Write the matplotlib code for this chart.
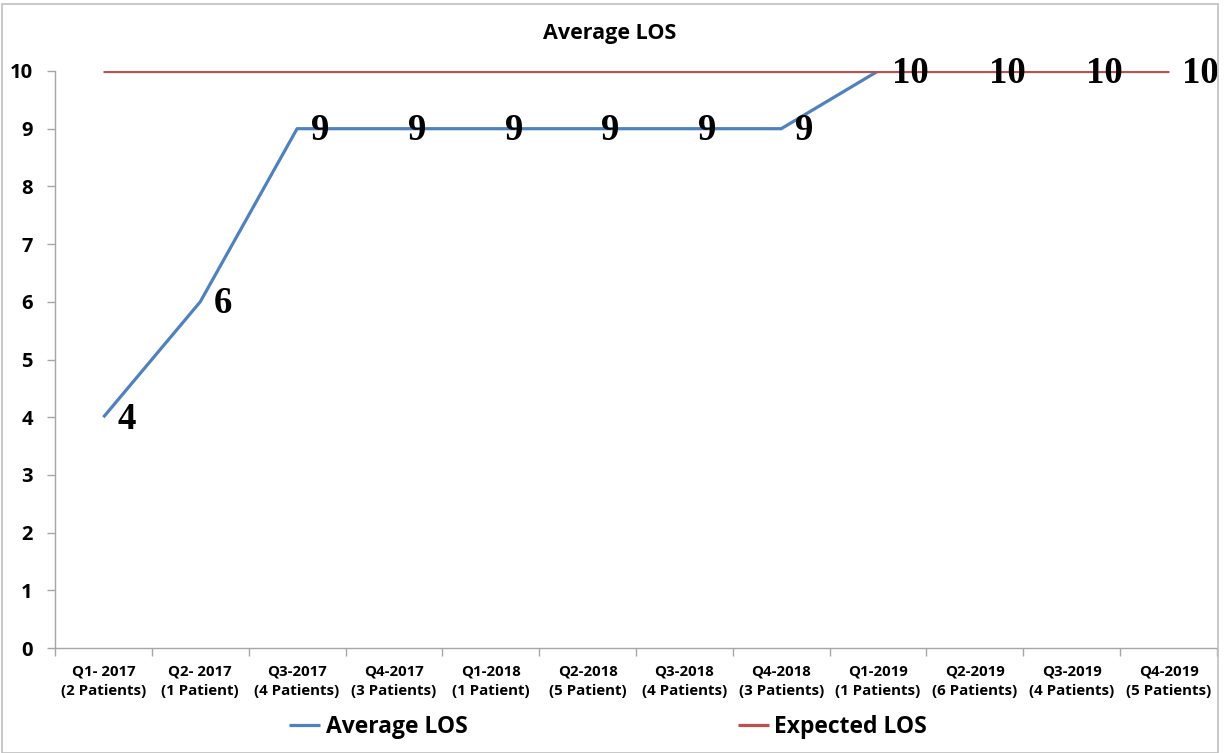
import matplotlib.pyplot as plt
from matplotlib.patches import Rectangle

# Chart data
quarters = ["Q1- 2017", "Q2- 2017", "Q3-2017", "Q4-2017", "Q1-2018", "Q2-2018",
            "Q3-2018", "Q4-2018", "Q1-2019", "Q2-2019", "Q3-2019", "Q4-2019"]
patients = ["(2 Patients)", "(1 Patient)", "(4 Patients)", "(3 Patients)", "(1 Patient)",
            "(5 Patient)", "(4 Patients)", "(3 Patients)", "(1 Patients)", "(6 Patients)",
            "(4 Patients)", "(5 Patients)"]
average_los = [4, 6, 9, 9, 9, 9, 9, 9, 10, 10, 10, 10]
expected_los = [10, 10, 10, 10, 10, 10, 10, 10, 10, 10, 10, 10]

sans = ["Open Sans", "DejaVu Sans"]
serif = ["Liberation Serif", "DejaVu Serif"]
blue = "#4F81BD"
red = "#C0504D"
gray = "#A6A6A6"

fig = plt.figure(figsize=(12.25, 7.53), dpi=100)
ax = fig.add_axes([55 / 1225, 105 / 753, (1217 - 55) / 1225, (648 - 71) / 753])

x = list(range(len(quarters)))
ax.plot(x, average_los, color=blue, lw=2.3, label="Average LOS", solid_capstyle="butt")
ax.plot(x, expected_los, color=red, lw=2.3, label="Expected LOS", solid_capstyle="butt")

# Data labels to the right of each point
for xi, v in zip(x, average_los):
    ax.annotate(str(v), (xi, v), xytext=(10, -1.5), textcoords="offset points",
                ha="left", va="center", fontsize=26.5, fontweight="bold",
                family=serif, color="black", annotation_clip=False)

ax.set_xlim(-0.5, len(quarters) - 0.5)
ax.set_ylim(0, 10)
ax.set_yticks(range(0, 11))
ax.set_yticklabels([str(i) for i in range(0, 11)], fontsize=14.5, fontweight="bold", family=sans)

# category labels centred, tick marks between categories
ax.set_xticks(x)
ax.set_xticklabels([q + "\n" + p for q, p in zip(quarters, patients)],
                   fontsize=10.8, fontweight="bold", family=sans, linespacing=1.45)
ax.set_xticks([i - 0.5 for i in range(len(quarters) + 1)], minor=True)
ax.tick_params(axis="x", which="major", length=0, pad=12)
ax.tick_params(axis="x", which="minor", length=6, color=gray, width=1)
ax.tick_params(axis="y", length=6, color=gray, width=1, pad=10)

for side in ["top", "right"]:
    ax.spines[side].set_visible(False)
for side in ["left", "bottom"]:
    ax.spines[side].set_color(gray)
    ax.spines[side].set_linewidth(1)

fig.text(610 / 1225, 1 - 33 / 753, "Average LOS", ha="center", va="center",
         fontsize=15.5, fontweight="bold", family=sans)

leg = fig.legend(loc="center", bbox_to_anchor=(608 / 1225, 1 - 727 / 753), ncol=2,
                 frameon=False, handlelength=1.35, handletextpad=0.25, columnspacing=11.8,
                 prop={"family": sans, "weight": "bold", "size": 16.5})

# outer chart border
fig.patches.append(Rectangle((2 / 1225, 0), 1216 / 1225, 1 - 4 / 753, transform=fig.transFigure,
                             fill=False, edgecolor="#BFBFBF", lw=1.2))

fig.savefig("out.png", dpi=100)
